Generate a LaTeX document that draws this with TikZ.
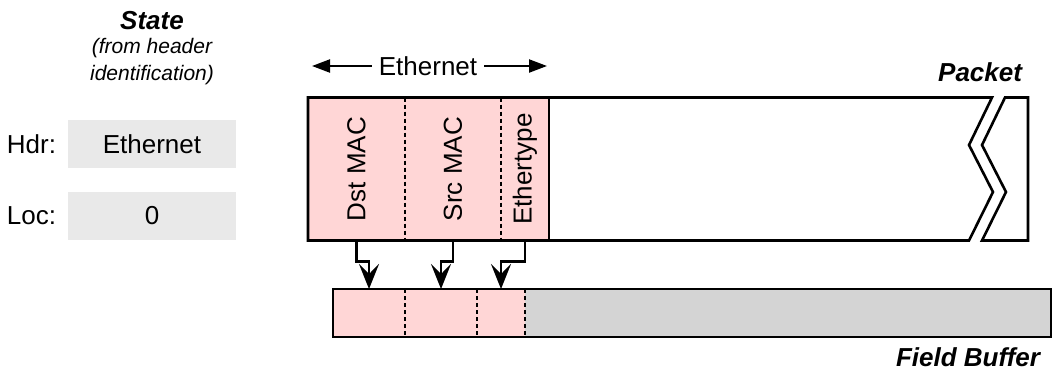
\documentclass[tikz,border=0pt]{standalone}
\usepackage{fontspec}
\setmainfont{Liberation Sans}
\usetikzlibrary{positioning,arrows.meta}
\definecolor{hdrpink}{RGB}{255,214,214}
\definecolor{bufgray}{RGB}{212,212,212}
\definecolor{stategray}{RGB}{233,233,233}

\begin{document}
\begin{tikzpicture}[
  x=0.5pt,y=-0.5pt,
  every node/.style={font=\fontsize{13}{15}\selectfont,inner sep=0pt,outer sep=0pt},
  heading/.style={font=\fontsize{13}{15}\selectfont\bfseries\itshape},
  note/.style={font=\fontsize{10.5}{13.5}\selectfont\itshape,align=center},
  statebox/.style={fill=stategray,minimum width=84pt,minimum height=24pt},
  hdrfield/.style={fill=hdrpink,minimum height=71.5pt},
  slot/.style={fill=hdrpink,minimum height=24pt},
  outline/.style={draw=black,line width=1.3pt},
  divider/.style={draw=black,line width=0.7pt,dash pattern=on 2pt off 1.5pt},
  fetch/.style={-{Stealth[length=12.5pt,width=10pt,inset=5pt]},line width=1.4pt},
  span/.style={-{Triangle[length=9pt,width=6.5pt]},line width=1.1pt}
 ]
  \useasboundingbox (0,0) rectangle (1053,371);
  % state
  \node[heading] (state) at (152,21) {State};
  \node[note] (stnote) at (152,62) {(from header\\identification)};
  \node[statebox] (hdr) at (152,144) {Ethernet};
  \node[statebox] (loc) at (152,215.5) {0};
  \node[left=6pt of hdr] (hdrlbl) {Hdr:};
  \node[left=6pt of loc] (loclbl) {Loc:};

  % packet
  \node[hdrfield,minimum width=48.5pt] (dst) at (356.5,169) {\rotatebox{90}{Dst MAC}};
  \node[hdrfield,minimum width=48pt,right=0pt of dst] (src) {\rotatebox{90}{Src MAC}};
  \node[hdrfield,minimum width=24pt,right=0pt of src] (etype) {\rotatebox{90}{Ethertype}};
  \node[heading,anchor=east] (pkt) at (1022,72) {Packet};
  \node[inner xsep=3.5pt] (ethlbl) at (428,66) {Ethernet};
  \coordinate (ethL) at (dst.west |- ethlbl);
  \coordinate (ethR) at (etype.east |- ethlbl);
  \draw[span,shorten >=2pt] (ethlbl.west) -- (ethL);
  \draw[span,shorten >=1pt] (ethlbl.east) -- (ethR);
  \draw[outline] (dst.north west) -- (992,97.5) -- (969,145) -- (993,192)
    -- (969,240.5) -- (dst.south west) -- cycle;
  \draw[outline] (1005,97.5) -- (1028,97.5) -- (1028,240.5) -- (982,240.5)
    -- (1006,192) -- (982,145) -- cycle;
  \draw[outline] (etype.north east) -- (etype.south east);
  \draw[divider] (dst.north east) -- (dst.south east);
  \draw[divider] (src.north east) -- (src.south east);

  % field buffer
  \node[slot,minimum width=36pt] (b1) at (369,313) {};
  \node[slot,minimum width=36pt,right=0pt of b1] (b2) {};
  \node[slot,minimum width=24pt,right=0pt of b2] (b3) {};
  \node[slot,fill=bufgray,minimum width=263pt,right=0pt of b3] (rest) {};
  \draw[outline] (b1.north west) rectangle (rest.south east);
  \draw[divider] (b1.north east) -- (b1.south east);
  \draw[divider] (b2.north east) -- (b2.south east);
  \draw[divider] (b3.north east) -- (b3.south east);
  \node[heading,anchor=east] (fbuf) at (1040,357) {Field Buffer};

  \draw[fetch] (dst.south) -- ++(0,21) -| (b1.north);
  \draw[fetch] (src.south) -- ++(0,21) -| (b2.north);
  \draw[fetch] (etype.south) -- ++(0,21) -| (b3.north);
\end{tikzpicture}
\end{document}
